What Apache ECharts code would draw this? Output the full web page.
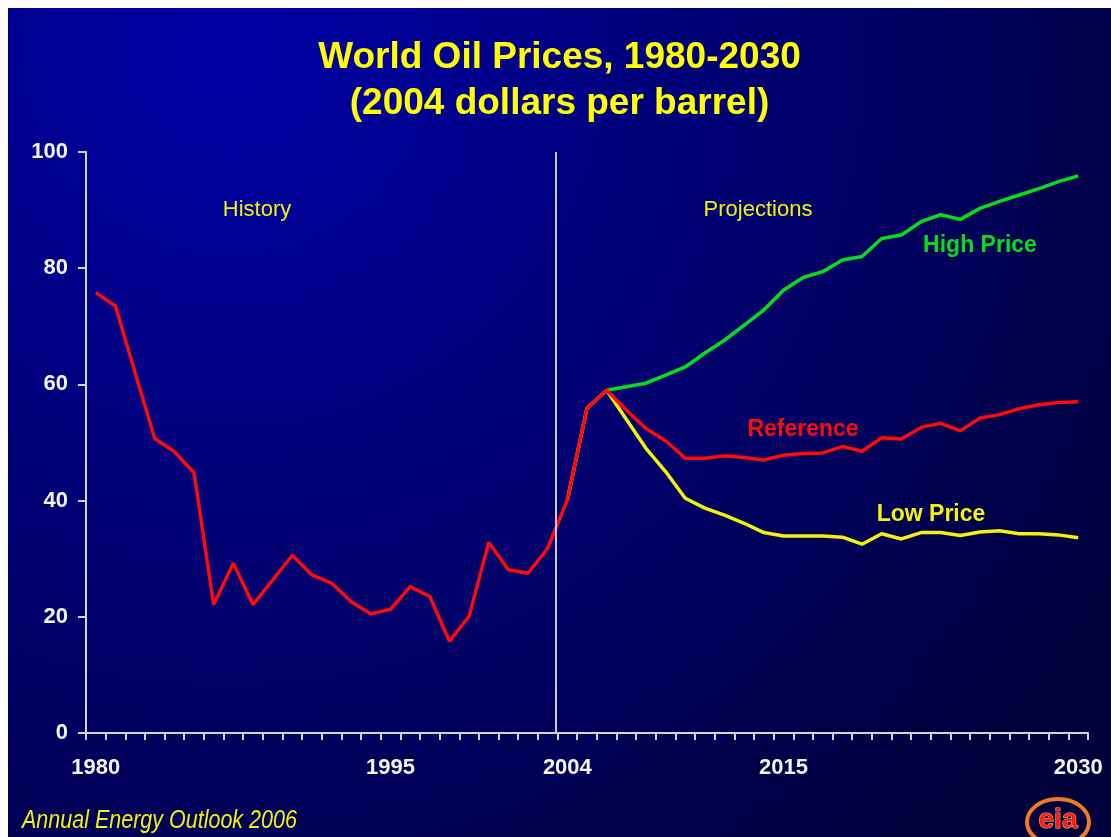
<!DOCTYPE html>
<html>
<head>
<meta charset="utf-8">
<script src="https://cdn.jsdelivr.net/npm/echarts@6/dist/echarts.min.js"></script>
<style>
    html, body { margin: 0; padding: 0; background: #ffffff; }
    #chart { position: absolute; left: 8px; top: 8px; width: 1103px; height: 829px; }
</style>
</head>
<body>
<div id="chart"></div>
<script>
// years on the x axis
const years = Array.from({ length: 51 }, (_, i) => String(1980 + i));
const labelYears = ['1980', '1995', '2004', '2015', '2030'];
const yTicks = { min: 0, max: 100, interval: 20 };

// history 1980-2004
const history = [75.8, 73.5, 62.0, 50.7, 48.4, 44.8, 22.1, 29.2, 22.1, 26.3,
    30.6, 27.2, 25.8, 22.6, 20.5, 21.3, 25.2, 23.5, 15.8, 20.1,
    32.8, 28.1, 27.5, 31.8, 40.1];
// projections 2004-2030
const reference = [40.1, 55.9, 59.0, 55.6, 52.4, 50.3, 47.3, 47.3, 47.7, 47.4,
    47.0, 47.8, 48.1, 48.2, 49.3, 48.5, 50.8, 50.6, 52.6, 53.3,
    52.0, 54.2, 54.8, 55.8, 56.5, 56.9, 57.0];
const lowPrice = [40.1, 55.9, 59.0, 54.0, 49.0, 45.0, 40.4, 38.7, 37.5, 36.1,
    34.5, 33.9, 33.9, 33.9, 33.7, 32.5, 34.3, 33.4, 34.5, 34.5,
    34.0, 34.6, 34.8, 34.3, 34.3, 34.1, 33.6];
// high price 2006-2030
const highPrice = [59.0, 59.6, 60.2, 61.6, 63.0, 65.4, 67.6, 70.2, 72.8, 76.2,
    78.4, 79.4, 81.4, 82.0, 85.1, 85.7, 88.0, 89.2, 88.4, 90.3,
    91.5, 92.6, 93.7, 94.9, 95.9];
// history / projections divider
const splitYear = 2003.4;

// pad a series out to the full year range
const pad = (startYear, vals) => years.map(y => {
    const i = +y - startYear;
    return i >= 0 && i < vals.length ? vals[i] : null;
});

const axisColor = '#d4d4de';
const font = '"Liberation Sans", Arial, sans-serif';

const lineSeries = (name, data, color) => ({
    name: name,
    type: 'line',
    data: data,
    symbol: 'none',
    lineStyle: { color: color, width: 3.5 },
    itemStyle: { color: color },
    z: 3
});

const chart = echarts.init(document.getElementById('chart'));
chart.setOption({
    backgroundColor: {
        type: 'radial', x: 0.2, y: 0.05, r: 1.25,
        colorStops: [
            { offset: 0, color: '#0000a6' },
            { offset: 1, color: '#00003c' }
        ]
    },
    animation: false,
    title: {
        text: 'World Oil Prices, 1980-2030\n(2004 dollars per barrel)',
        left: 'center',
        top: 22,
        textStyle: {
            color: '#ffff00',
            fontFamily: font,
            fontWeight: 'bold',
            fontSize: 37,
            lineHeight: 46
        }
    },
    grid: { left: 78, right: 23, top: 144, bottom: 104 },
    xAxis: [
        {
            type: 'category',
            data: years,
            boundaryGap: true,
            axisLine: { lineStyle: { color: axisColor, width: 2 } },
            axisTick: { show: true, interval: 0, length: 7, lineStyle: { color: axisColor, width: 2 } },
            axisLabel: {
                interval: (idx, val) => labelYears.includes(val),
                color: '#f4f4f4',
                fontFamily: font,
                fontWeight: 'bold',
                fontSize: 22,
                margin: 24
            },
            splitLine: { show: false }
        },
        {
            type: 'value',
            min: 1979.5,
            max: 2030.5,
            show: false
        }
    ],
    yAxis: {
        type: 'value',
        min: yTicks.min,
        max: yTicks.max,
        interval: yTicks.interval,
        axisLine: { show: true, lineStyle: { color: axisColor, width: 2 } },
        axisTick: { show: true, length: 8, lineStyle: { color: axisColor, width: 2 } },
        axisLabel: {
            color: '#f4f4f4',
            fontFamily: font,
            fontWeight: 'bold',
            fontSize: 22,
            margin: 18
        },
        splitLine: { show: false }
    },
    series: [
        {
            type: 'line',
            xAxisIndex: 1,
            data: [],
            markLine: {
                silent: true,
                symbol: 'none',
                label: { show: false },
                lineStyle: { color: '#c8c8d8', width: 2, type: 'solid' },
                data: [{ xAxis: splitYear }]
            }
        },
        lineSeries('High Price', pad(2006, highPrice), '#00e01c'),
        lineSeries('Low Price', pad(2004, lowPrice), '#f2f20a'),
        lineSeries('Reference', pad(2004, reference), '#ff0a0a'),
        lineSeries('History', pad(1980, history), '#ff0a0a')
    ],
    graphic: [
        { type: 'text', x: 249, y: 202, style: { text: 'History', fill: '#f0f014', font: '22px ' + font, align: 'center', verticalAlign: 'middle' } },
        { type: 'text', x: 750, y: 202, style: { text: 'Projections', fill: '#f0f014', font: '22px ' + font, align: 'center', verticalAlign: 'middle' } },
        { type: 'text', x: 972, y: 238, style: { text: 'High Price', fill: '#00e01c', font: 'bold 23px ' + font, align: 'center', verticalAlign: 'middle' } },
        { type: 'text', x: 795, y: 422, style: { text: 'Reference', fill: '#ff0a0a', font: 'bold 23px ' + font, align: 'center', verticalAlign: 'middle' } },
        { type: 'text', x: 923, y: 507, style: { text: 'Low Price', fill: '#f2f20a', font: 'bold 23px ' + font, align: 'center', verticalAlign: 'middle' } },
        { type: 'text', x: 14, y: 813, scaleX: 0.86, style: { text: 'Annual Energy Outlook 2006', fill: '#f0f014', font: 'italic 25px ' + font, verticalAlign: 'middle' } },
        // eia logo
        { type: 'ellipse', shape: { cx: 1050, cy: 814, rx: 31, ry: 23 }, style: { fill: 'none', stroke: '#f07a28', lineWidth: 4 } },
        { type: 'text', x: 1050, y: 812, style: { text: 'eia', fill: '#ff1a1a', stroke: '#ffcc66', lineWidth: 1, font: 'bold 28px ' + font, align: 'center', verticalAlign: 'middle' } }
    ]
});
</script>
</body>
</html>
